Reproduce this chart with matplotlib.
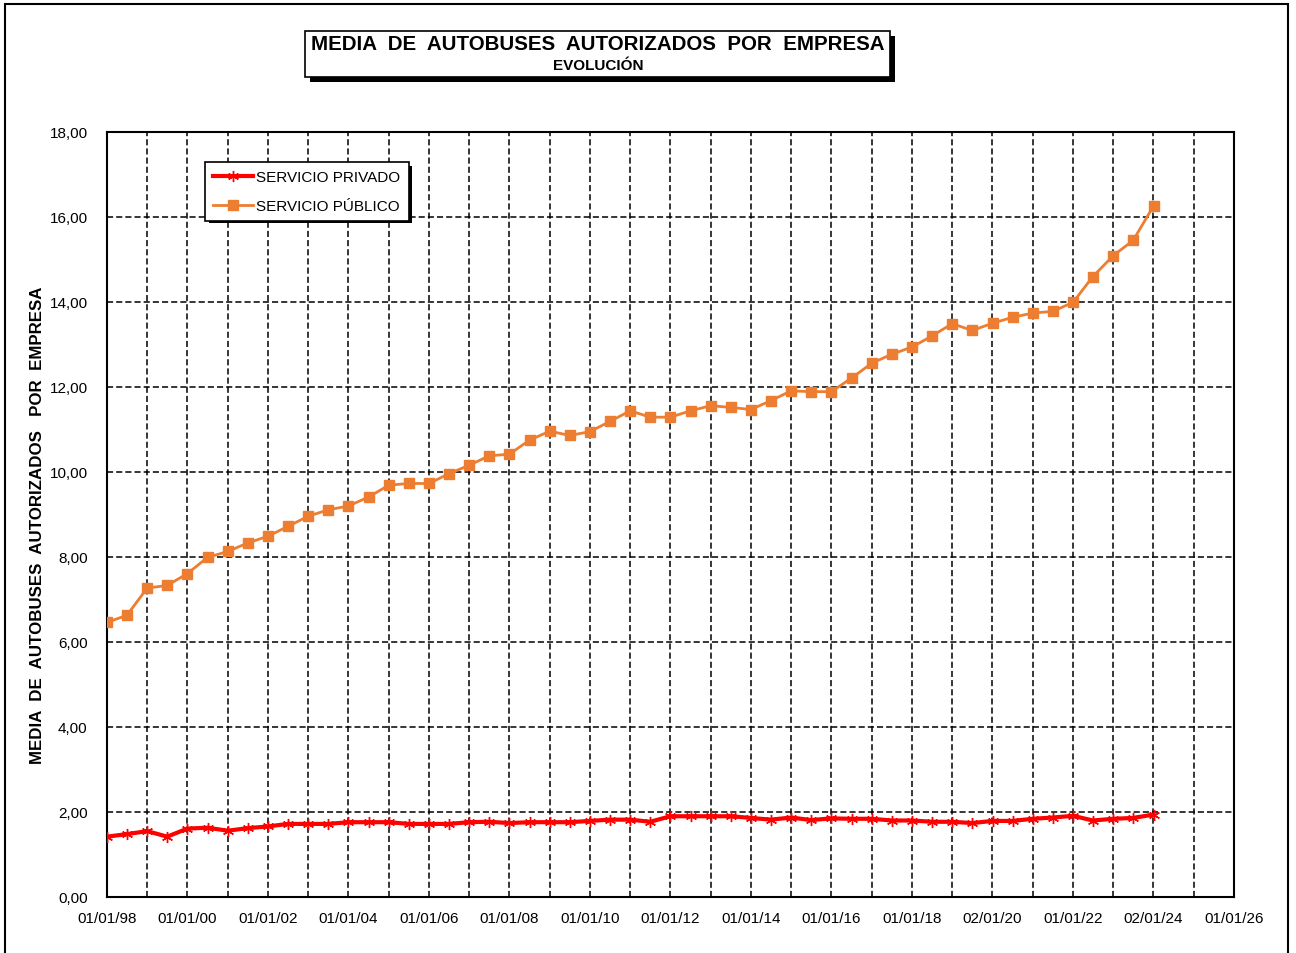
import datetime as dt
import matplotlib
matplotlib.use("Agg")
import matplotlib.pyplot as plt
import matplotlib.dates as mdates
from matplotlib.patches import Rectangle

# fechas semestrales (dd/mm/aa)
fechas = [
    "01/01/98", "01/07/98", "01/01/99", "01/07/99", "01/01/00", "01/07/00",
    "01/01/01", "01/07/01", "01/01/02", "01/07/02", "01/01/03", "01/07/03",
    "01/01/04", "01/07/04", "01/01/05", "01/07/05", "01/01/06", "01/07/06",
    "01/01/07", "01/07/07", "01/01/08", "01/07/08", "01/01/09", "01/07/09",
    "01/01/10", "01/07/10", "01/01/11", "01/07/11", "01/01/12", "01/07/12",
    "01/01/13", "01/07/13", "01/01/14", "01/07/14", "01/01/15", "01/07/15",
    "01/01/16", "01/07/16", "01/01/17", "01/07/17", "01/01/18", "01/07/18",
    "01/01/19", "01/07/19", "02/01/20", "01/07/20", "01/01/21", "01/07/21",
    "01/01/22", "01/07/22", "01/01/23", "01/07/23", "02/01/24",
]

servicio_privado = [
    1.42, 1.48, 1.55, 1.42, 1.61, 1.63, 1.56, 1.62, 1.66, 1.72, 1.72, 1.72,
    1.76, 1.76, 1.76, 1.72, 1.72, 1.72, 1.76, 1.77, 1.74, 1.76, 1.76, 1.76,
    1.79, 1.82, 1.82, 1.77, 1.90, 1.90, 1.90, 1.90, 1.86, 1.82, 1.87, 1.81,
    1.85, 1.84, 1.84, 1.80, 1.80, 1.77, 1.77, 1.74, 1.79, 1.79, 1.84, 1.87,
    1.91, 1.80, 1.84, 1.86, 1.94,
]

servicio_publico = [
    6.46, 6.63, 7.27, 7.33, 7.61, 7.99, 8.13, 8.33, 8.49, 8.72, 8.96, 9.11,
    9.20, 9.41, 9.69, 9.73, 9.73, 9.96, 10.16, 10.38, 10.42, 10.75, 10.96, 10.86,
    10.95, 11.19, 11.44, 11.29, 11.29, 11.44, 11.56, 11.52, 11.47, 11.68, 11.91, 11.89,
    11.89, 12.21, 12.56, 12.77, 12.94, 13.20, 13.49, 13.33, 13.50, 13.64, 13.74, 13.78,
    13.99, 14.60, 15.09, 15.45, 16.26,
]

etiquetas_x = ["01/01/98", "01/01/00", "01/01/02", "01/01/04", "01/01/06",
               "01/01/08", "01/01/10", "01/01/12", "01/01/14", "01/01/16",
               "01/01/18", "02/01/20", "01/01/22", "02/01/24", "01/01/26"]

plt.rcParams['font.family'] = ['Liberation Sans', 'DejaVu Sans']

x = [dt.datetime.strptime(f, "%d/%m/%y") for f in fechas]

fig = plt.figure(figsize=(12.96, 9.54), dpi=100)
ax = fig.add_axes([107 / 1296, 56 / 954, 1127 / 1296, 765 / 954])

ax.plot(x, servicio_privado, color="#FF0000", lw=3, marker=(6, 2, 0),
        markersize=8, markeredgewidth=1.0, label="SERVICIO PRIVADO", zorder=4)
ax.plot(x, servicio_publico, color="#ED7D31", lw=2, marker="s",
        markersize=7, label="SERVICIO PÚBLICO", zorder=4)

ax.set_xlim(dt.datetime(1998, 1, 1), dt.datetime(2026, 1, 1))
ax.set_ylim(0, 18)
ax.set_yticks(range(0, 19, 2))
ax.set_yticklabels(["%d,00" % v for v in range(0, 19, 2)], fontsize=11)

ticks_x = [dt.datetime(1998 + 2 * k, 1, 1) for k in range(len(etiquetas_x))]
ax.set_xticks(ticks_x)
ax.set_xticklabels(etiquetas_x, fontsize=11)
ax.xaxis.set_minor_locator(mdates.YearLocator(1))
ax.tick_params(which="both", length=0)
ax.tick_params(axis="x", pad=10)
ax.tick_params(axis="y", pad=14)

ax.grid(True, which="both", axis="x", color="black", ls=(0, (4, 2)), lw=1.1)
ax.grid(True, which="major", axis="y", color="black", ls=(0, (4, 2)), lw=1.1)
for s in ax.spines.values():
    s.set_linewidth(1.5)

# y label
fig.text(38 / 1296, 1 - 525 / 954,
         "MEDIA  DE  AUTOBUSES  AUTORIZADOS   POR  EMPRESA",
         rotation=90, ha="center", va="center", fontsize=12.2, fontweight="bold")

# legend with black shadow
leg = fig.legend(loc="upper left", bbox_to_anchor=(205 / 1296, 1 - 163 / 954),
                 fontsize=11, frameon=True, fancybox=False, handlelength=2.6,
                 handletextpad=0.2, borderpad=0.55, labelspacing=0.95,
                 borderaxespad=0, edgecolor="black", facecolor="white",
                 framealpha=1)
leg.get_frame().set_linewidth(1.2)
leg.set_zorder(6)
bb = (205, 163, 408, 220)
fig.patches.append(Rectangle(((bb[0] + 4) / 1296, 1 - (bb[3] + 4) / 954),
                             (bb[2] - bb[0]) / 1296, (bb[3] - bb[1]) / 954,
                             transform=fig.transFigure, facecolor="black",
                             edgecolor="none", zorder=5))

# title box with shadow
tb = (305, 32, 890, 78)
fig.patches.append(Rectangle(((tb[0] + 5) / 1296, 1 - (tb[3] + 5) / 954),
                             (tb[2] - tb[0]) / 1296, (tb[3] - tb[1]) / 954,
                             transform=fig.transFigure, facecolor="black",
                             edgecolor="none", zorder=1))
fig.patches.append(Rectangle((tb[0] / 1296, 1 - tb[3] / 954),
                             (tb[2] - tb[0]) / 1296, (tb[3] - tb[1]) / 954,
                             transform=fig.transFigure, facecolor="white",
                             edgecolor="black", lw=1.2, zorder=2))
fig.text(598 / 1296, 1 - 45 / 954, "MEDIA  DE  AUTOBUSES  AUTORIZADOS  POR  EMPRESA",
         ha="center", va="center", fontsize=14.8, fontweight="bold", zorder=3)
fig.text(598 / 1296, 1 - 66 / 954, "EVOLUCIÓN",
         ha="center", va="center", fontsize=11, fontweight="bold", zorder=3)

# outer border
fig.patches.append(Rectangle((5 / 1296, -0.02), 1283 / 1296, 1.02 - 5 / 954,
                             transform=fig.transFigure, facecolor="none",
                             edgecolor="black", lw=1.5, zorder=0))

fig.savefig("out.png", dpi=100)
